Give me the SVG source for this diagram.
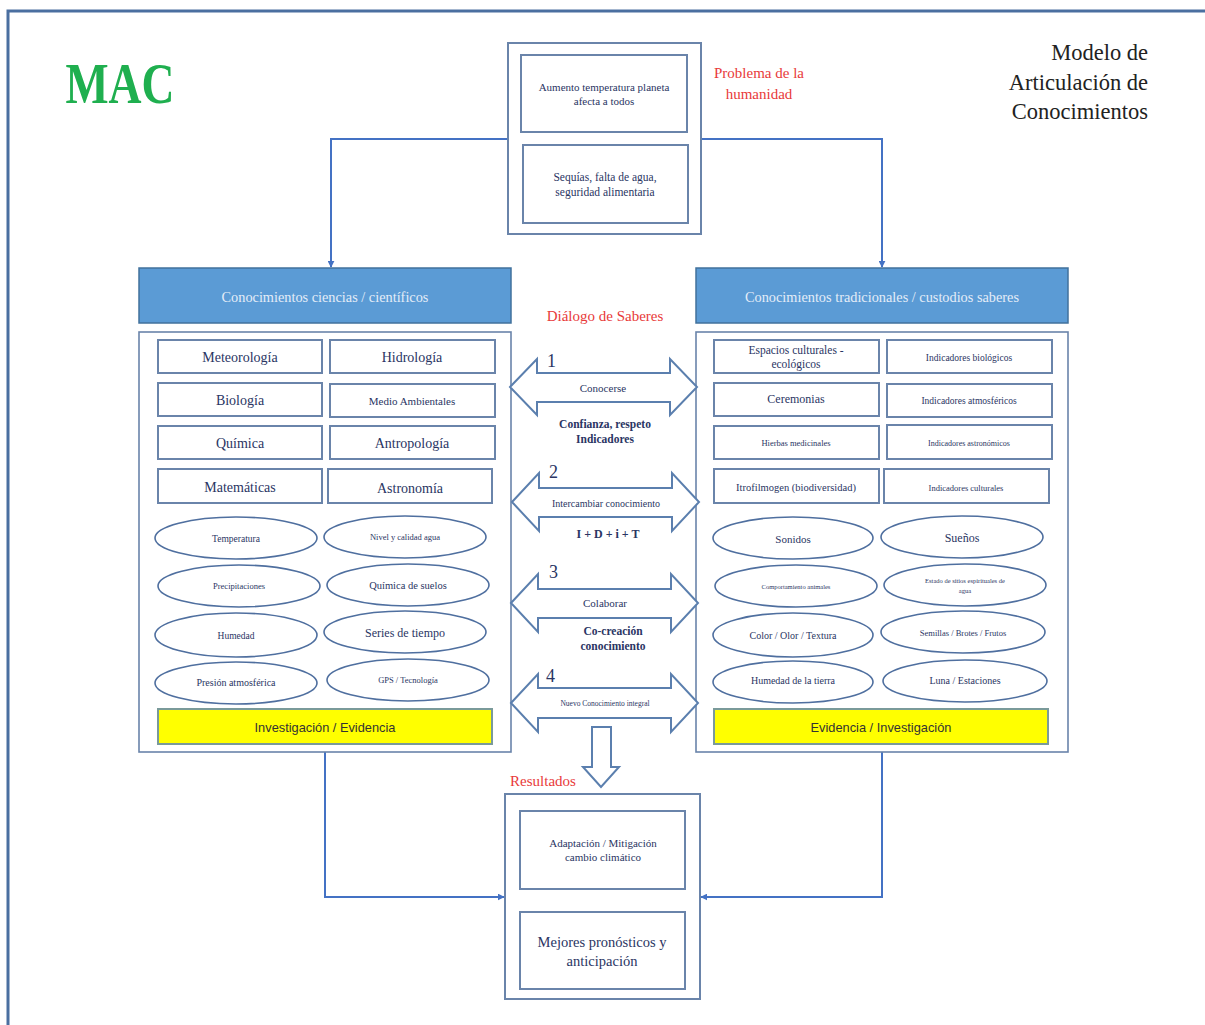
<svg xmlns="http://www.w3.org/2000/svg" width="1205" height="1025" viewBox="0 0 1205 1025">
<style>
.frame{fill:none;stroke:#4a6fa0;stroke-width:3}
.box{fill:#fff;stroke:#6a84aa;stroke-width:2}
.panel{fill:#fff;stroke:#6a84aa;stroke-width:1.6}
.hdr{fill:#5b9bd5;stroke:#41719c;stroke-width:1.5}
.ell{fill:#fff;stroke:#4f6f9f;stroke-width:1.6}
.ybar{fill:#ffff00;stroke:#7a9a9a;stroke-width:2}
.dbl{fill:#fff;stroke:#5b7fae;stroke-width:2;stroke-linejoin:miter}
.t{font-family:"Liberation Serif","DejaVu Serif",serif;fill:#2a3563;text-anchor:middle}
.b{font-weight:bold}
.ht{font-family:"Liberation Serif",serif;fill:#e4edf8;font-size:14.3px;text-anchor:middle}
.red{font-family:"Liberation Serif",serif;fill:#e83a3a;text-anchor:middle}
.sans{font-family:"Liberation Sans","Open Sans",sans-serif;fill:#333;font-size:12.8px;text-anchor:middle}
.conn{fill:none;stroke:#4472c4;stroke-width:2}
</style>
<defs>
<marker id="ah" viewBox="0 0 10 10" refX="9" refY="5" markerWidth="7" markerHeight="7" orient="auto" markerUnits="userSpaceOnUse">
<path d="M0,0 L10,5 L0,10 z" fill="#4472c4"/>
</marker>
</defs>
<rect width="1205" height="1025" fill="#fff"/>
<path class="frame" d="M8,1025 V11 H1205"/>

<g id="mac"><text x="120" y="103" font-family="Liberation Serif,serif" font-weight="bold" font-size="58" fill="#1faf4f" text-anchor="middle" textLength="109" lengthAdjust="spacingAndGlyphs">MAC</text></g>
<g id="title" font-family="Liberation Serif,serif" font-size="22.5" fill="#222" text-anchor="end">
<text x="1148" y="60">Modelo de</text>
<text x="1148" y="90">Articulación de</text>
<text x="1148" y="119">Conocimientos</text>
</g>

<g id="connectors">
<path class="conn" d="M508,139 H331 V267" marker-end="url(#ah)"/>
<path class="conn" d="M701,139 H882 V267" marker-end="url(#ah)"/>
<path class="conn" d="M325,752 V897 H504" marker-end="url(#ah)"/>
<path class="conn" d="M882,752 V897 H701" marker-end="url(#ah)"/>
</g>

<g id="problema">
<rect class="box" x="508" y="43" width="193" height="191"/>
<rect class="box" x="521" y="55" width="166" height="77"/>
<text class="t" x="604" y="91" font-size="11">Aumento temperatura planeta</text>
<text class="t" x="604" y="105" font-size="11">afecta a todos</text>
<rect class="box" x="523" y="145" width="165" height="78"/>
<text class="t" x="605" y="181" font-size="11.5">Sequías, falta de agua,</text>
<text class="t" x="605" y="196" font-size="11.5">seguridad alimentaria</text>
</g>
<g id="problema-label">
<text class="red" x="759" y="78" font-size="15">Problema de la</text>
<text class="red" x="759" y="99" font-size="15">humanidad</text>
</g>

<g id="ciencias">
<rect class="hdr" x="139" y="268" width="372" height="55"/>
<text class="ht" x="325" y="302">Conocimientos ciencias / científicos</text>
<rect class="panel" x="139" y="332" width="372" height="420"/>
<rect class="box" x="158" y="340" width="164" height="33"/><text class="t" x="240" y="362" font-size="14">Meteorología</text>
<rect class="box" x="330" y="340" width="165" height="33"/><text class="t" x="412" y="362" font-size="14">Hidrología</text>
<rect class="box" x="158" y="383" width="164" height="33"/><text class="t" x="240" y="405" font-size="14">Biología</text>
<rect class="box" x="330" y="384" width="165" height="33"/><text class="t" x="412" y="405" font-size="11">Medio Ambientales</text>
<rect class="box" x="158" y="426" width="164" height="33"/><text class="t" x="240" y="448" font-size="14">Química</text>
<rect class="box" x="330" y="426" width="165" height="33"/><text class="t" x="412" y="448" font-size="14">Antropología</text>
<rect class="box" x="158" y="469" width="164" height="34"/><text class="t" x="240" y="492" font-size="14">Matemáticas</text>
<rect class="box" x="328" y="469" width="164" height="34"/><text class="t" x="410" y="493" font-size="14">Astronomía</text>
<ellipse class="ell" cx="236" cy="538" rx="81" ry="21"/><text class="t" x="236" y="542" font-size="9.5">Temperatura</text>
<ellipse class="ell" cx="405" cy="537" rx="81" ry="21"/><text class="t" x="405" y="540" font-size="8.5">Nivel y calidad agua</text>
<ellipse class="ell" cx="239" cy="586" rx="81" ry="21"/><text class="t" x="239" y="589" font-size="8.5">Precipitaciones</text>
<ellipse class="ell" cx="408" cy="585" rx="81" ry="21"/><text class="t" x="408" y="589" font-size="10.5">Química de suelos</text>
<ellipse class="ell" cx="236" cy="635" rx="81" ry="22"/><text class="t" x="236" y="639" font-size="9.5">Humedad</text>
<ellipse class="ell" cx="405" cy="632" rx="81" ry="21"/><text class="t" x="405" y="637" font-size="12">Series de tiempo</text>
<ellipse class="ell" cx="236" cy="683" rx="81" ry="21"/><text class="t" x="236" y="686" font-size="10">Presión atmosférica</text>
<ellipse class="ell" cx="408" cy="680" rx="81" ry="21"/><text class="t" x="408" y="683" font-size="8.5">GPS / Tecnología</text>
<rect class="ybar" x="158" y="709" width="334" height="35"/>
<text class="sans" x="325" y="732">Investigación / Evidencia</text>
</g>

<g id="tradicionales">
<rect class="hdr" x="696" y="268" width="372" height="55"/>
<text class="ht" x="882" y="302">Conocimientos tradicionales / custodios saberes</text>
<rect class="panel" x="696" y="332" width="372" height="420"/>
<rect class="box" x="714" y="340" width="165" height="33"/>
<text class="t" x="796" y="354" font-size="11.5">Espacios culturales -</text>
<text class="t" x="796" y="368" font-size="11.5">ecológicos</text>
<rect class="box" x="887" y="340" width="165" height="33"/><text class="t" x="969" y="361" font-size="9.5">Indicadores biológicos</text>
<rect class="box" x="714" y="383" width="165" height="33"/><text class="t" x="796" y="403" font-size="12">Ceremonias</text>
<rect class="box" x="887" y="384" width="165" height="33"/><text class="t" x="969" y="404" font-size="9.5">Indicadores atmosféricos</text>
<rect class="box" x="714" y="426" width="165" height="33"/><text class="t" x="796" y="446" font-size="8.5">Hierbas medicinales</text>
<rect class="box" x="887" y="425" width="165" height="34"/><text class="t" x="969" y="446" font-size="8">Indicadores astronómicos</text>
<rect class="box" x="714" y="469" width="165" height="34"/><text class="t" x="796" y="491" font-size="10.5">Itrofilmogen (biodiversidad)</text>
<rect class="box" x="884" y="469" width="165" height="34"/><text class="t" x="966" y="491" font-size="8.5">Indicadores culturales</text>
<ellipse class="ell" cx="793" cy="538" rx="80" ry="21"/><text class="t" x="793" y="543" font-size="11">Sonidos</text>
<ellipse class="ell" cx="962" cy="537" rx="81" ry="21"/><text class="t" x="962" y="542" font-size="12">Sueños</text>
<ellipse class="ell" cx="796" cy="586" rx="81" ry="21"/><text class="t" x="796" y="589" font-size="6.5">Comportamiento  animales</text>
<ellipse class="ell" cx="965" cy="585" rx="81" ry="21"/>
<text class="t" x="965" y="583" font-size="6.5">Estado de sitios espirituales  de</text>
<text class="t" x="965" y="593" font-size="6.5">agua</text>
<ellipse class="ell" cx="793" cy="635" rx="80" ry="22"/><text class="t" x="793" y="639" font-size="10">Color / Olor / Textura</text>
<ellipse class="ell" cx="963" cy="632" rx="82" ry="21"/><text class="t" x="963" y="636" font-size="8.5">Semillas / Brotes / Frutos</text>
<ellipse class="ell" cx="793" cy="682" rx="80" ry="21"/><text class="t" x="793" y="684" font-size="10">Humedad de la tierra</text>
<ellipse class="ell" cx="965" cy="681" rx="82" ry="21"/><text class="t" x="965" y="684" font-size="10">Luna / Estaciones</text>
<rect class="ybar" x="714" y="709" width="334" height="35"/>
<text class="sans" x="881" y="732">Evidencia / Investigación</text>
</g>

<g id="dialogo">
<text class="red" x="605" y="321" font-size="15">Diálogo de Saberes</text>
<polygon class="dbl" points="510,387 537,359 537,373 670,373 670,359 697,387 670,415 670,402 537,402 537,415"/>
<text class="t" x="547" y="367" font-size="18" style="text-anchor:start">1</text>
<text class="t" x="603" y="392" font-size="11">Conocerse</text>
<text class="t b" x="605" y="428" font-size="11.5">Confianza, respeto</text>
<text class="t b" x="605" y="443" font-size="11.5">Indicadores</text>

<polygon class="dbl" points="512,502 539,473 539,488 672,488 672,473 699,502 672,531 672,517 539,517 539,531"/>
<text class="t" x="549" y="478" font-size="18" style="text-anchor:start">2</text>
<text class="t" x="606" y="507" font-size="10">Intercambiar conocimiento</text>
<text class="t b" x="608" y="538" font-size="12">I + D + i + T</text>

<polygon class="dbl" points="511,603 538,574 538,589 671,589 671,574 698,603 671,632 671,618 538,618 538,632"/>
<text class="t" x="549" y="578" font-size="18" style="text-anchor:start">3</text>
<text class="t" x="605" y="607" font-size="11">Colaborar</text>
<text class="t b" x="613" y="635" font-size="11.5">Co-creación</text>
<text class="t b" x="613" y="650" font-size="11.5">conocimiento</text>

<polygon class="dbl" points="511,703 538,674 538,688 671,688 671,674 698,703 671,732 671,718 538,718 538,732"/>
<text class="t" x="546" y="682" font-size="18" style="text-anchor:start">4</text>
<text class="t" x="605" y="706" font-size="7.5">Nuevo Conocimiento integral</text>

<polygon class="dbl" points="592,727 611,727 611,767 619,767 601,787 583,767 592,767"/>
</g>

<g id="resultados">
<text class="red" x="543" y="786" font-size="15">Resultados</text>
<rect class="box" x="505" y="794" width="195" height="205"/>
<rect class="box" x="520" y="811" width="165" height="78"/>
<text class="t" x="603" y="847" font-size="11">Adaptación / Mitigación</text>
<text class="t" x="603" y="861" font-size="11">cambio climático</text>
<rect class="box" x="520" y="912" width="165" height="77"/>
<text class="t" x="602" y="947" font-size="14.5">Mejores pronósticos y</text>
<text class="t" x="602" y="966" font-size="14.5">anticipación</text>
</g>
</svg>
